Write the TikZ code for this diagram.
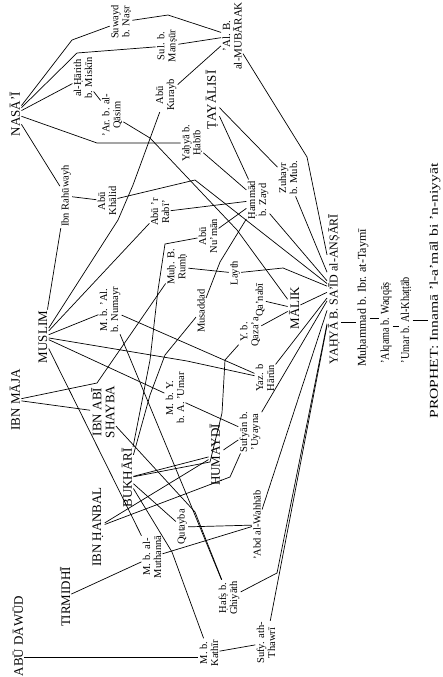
\documentclass[tikz,border=0pt]{standalone}
\usepackage{fontspec}
\setmainfont{Liberation Serif}

\begin{document}
\begin{tikzpicture}[x=1pt, y=-1pt, line width=0.7pt,
  every node/.style={rotate=90, inner sep=1pt, align=center},
  narr/.style={font=\fontsize{10.5}{11}\selectfont},
  collector/.style={font=\fontsize{13}{13}\selectfont},
  chain/.style={font=\fontsize{12}{13}\selectfont}]
  \useasboundingbox (0,0) rectangle (443,677);

  % collectors
  \node[collector] (nasai) at (15,114) {NASĀ'Ī};
  \node[collector] (muslim) at (43,337) {MUSLIM};
  \node[collector] (ibnmaja) at (15,400) {IBN MĀJA};
  \node[collector] (ibnabishayba) at (103,412) {IBN ABĪ\\SHAYBA};
  \node[collector] (bukhari) at (127,478) {BUKHĀRĪ};
  \node[collector] (ibnhanbal) at (98,527) {IBN ḤANBAL};
  \node[collector] (tirmidhi) at (65,597) {TIRMIDHĪ};
  \node[collector] (abudawud) at (18,636) {ABŪ DĀWŪD};
  \node[collector] (humaydi) at (216,455) {ḤUMAYDĪ};
  \node[collector] (tayalisi) at (212,100) {ṬAYĀLISĪ};
  \node[collector] (malik) at (294,308) {MĀLIK};
  \node[collector, font=\fontsize{11}{11.5}\selectfont] (mubarak) at (232,36) {'Al. B.\\al-MUBĀRAK};

  % transmitters
  \node[narr] (suwayd) at (121,22) {Suwayd\\b. Naṣr};
  \node[narr] (harith) at (83,78) {al-Ḥārith\\b. Miskīn};
  \node[narr] (arqasim) at (112,115) {'Ar. b. al-\\Qāsim};
  \node[narr] (rahuwayh) at (66,196) {Ibn Rahūwayh};
  \node[narr] (abukhalid) at (107,201) {Abū\\Khālid};
  \node[narr] (sulmansur) at (167,46) {Sul. b.\\Manṣūr};
  \node[narr] (abukurayb) at (166,95) {Abū\\Kurayb};
  \node[narr] (yhabib) at (192,143) {Yaḥyā b.\\Ḥabīb};
  \node[narr] (zuhayr) at (288,178) {Zuhayr\\b. Mub.};
  \node[narr] (hammad) at (258,200) {Ḥammād\\b. Zayd};
  \node[narr] (aburabi) at (160,212) {Abū 'r\\Rabī'};
  \node[narr] (abunuman) at (208,236) {Abū\\Nu'mān};
  \node[narr] (muhrumh) at (177,267) {Muḥ. B.\\Rumḥ};
  \node[narr] (layth) at (235,273) {Layth};
  \node[narr] (musaddad) at (201,311) {Musaddad};
  \node[narr] (qanabi) at (260,300) {Qa'nabī};
  \node[narr] (mbnumayr) at (110,310) {M. b. 'Al.\\b. Numayr};
  \node[narr] (yqazaa) at (250,332) {Y. b.\\Qaza'a};
  \node[narr] (yazid) at (265,378) {Yaz. b\\Hārūn};
  \node[narr] (mbyumar) at (175,398) {M. b. Y.\\b. A. 'Umar};
  \node[narr] (sufyanuy) at (250,432) {Sufyān b.\\'Uyayna};
  \node[narr] (qutayba) at (182,527) {Qutayba};
  \node[narr] (abdalwahhab) at (257,525) {'Abd al-Wahhāb};
  \node[narr] (mbmuthanna) at (152,557) {M. b. al-\\Muthannā};
  \node[narr] (hafs) at (229,598) {Ḥafṣ b.\\Ghiyāth};
  \node[narr] (sufyanth) at (266,643) {Sufy. ath-\\Thawrī};
  \node[narr] (mbkathir) at (209,653) {M. b.\\Kathīr};

  % common link and the single strand
  \node[chain] (yahya) at (334,289) {YAḤYĀ B. SA'ĪD al-ANṢĀRĪ};
  \node[chain] (taymi) at (363,298) {Muḥammad b. Ibr. at-Taymī};
  \node[chain, xscale=0.85] (alqama) at (386,323) {'Alqama b. Waqqāṣ};
  \node[chain, xscale=0.85] (umar) at (406,320) {'Umar b. Al-Khaṭṭāb};
  \node[chain, xscale=1.3] (prophet) at (435,291) {PROPHET: Innamā 'l-a'māl bi 'n-niyyāt};

  \draw (yahya.south |- 0,322) -- (taymi.north |- 0,322);
  \draw (taymi.south |- 0,318) -- (alqama.north |- 0,318);
  \draw (alqama.south |- 0,326) -- (umar.north |- 0,326);
  \draw (umar.south |- 0,320) -- (prophet.north |- 0,320);

  % upper strands
  \draw (nasai) -- (72,40) -- (suwayd);
  \draw (nasai) -- (77,53) -- (sulmansur);
  \draw (nasai) -- (harith);
  \draw (nasai) -- (97,143) -- (yhabib);
  \draw (nasai) -- (rahuwayh);
  \draw (suwayd) -- (168,15) -- (mubarak);
  \draw (sulmansur) -- (mubarak);
  \draw (abukurayb) -- (mubarak);
  \draw (harith) -- (arqasim);
  \draw (arqasim) -- (150,138) -- (237,230) -- (malik);
  \draw (rahuwayh) -- (abukhalid);
  \draw (abukhalid) -- (195,180) -- (yahya);
  \draw (mubarak) -- (307,157) -- (yahya);
  \draw (tayalisi) -- (zuhayr);
  \draw (tayalisi) -- (hammad);
  \draw (yhabib) -- (hammad);
  \draw (aburabi) -- (hammad);
  \draw (abunuman) -- (hammad);
  \draw (musaddad) -- (220,262) -- (hammad);
  \draw (zuhayr) -- (yahya);
  \draw (hammad) -- (yahya);

  % middle strands
  \draw (muslim) -- (rahuwayh);
  \draw (muslim) -- (118,220) -- (133,185) -- (abukurayb);
  \draw (muslim) -- (aburabi);
  \draw (muslim) -- (mbnumayr);
  \draw (muslim) -- (mbyumar);
  \draw (muslim) -- (187,361) -- (yazid);
  \draw (muslim) -- (mbmuthanna);
  \draw (ibnmaja) -- (ibnabishayba);
  \draw (ibnmaja) -- (97,383) -- (muhrumh);
  \draw (muhrumh) -- (layth);
  \draw (layth) -- (283,268) -- (yahya);
  \draw (qanabi) -- (malik);
  \draw (yqazaa) -- (malik);
  \draw (malik) -- (yahya);
  \draw (mbnumayr) -- (yazid);
  \draw (mbnumayr) -- (190,503) -- (hafs);
  \draw (yazid) -- (yahya);
  \draw (mbyumar) -- (sufyanuy);
  \draw (humaydi) -- (sufyanuy);
  \draw (sufyanuy) -- (yahya);

  % lower strands
  \draw (bukhari) -- (humaydi);
  \draw (bukhari) -- (qutayba);
  \draw (bukhari) -- (150,360) -- (158,290) -- (165,244) -- (abunuman);
  \draw (bukhari) -- (150,395) -- (165,355) -- (musaddad);
  \draw (bukhari) -- (210,462) -- (222,413) -- (225,360) -- (yqazaa);
  \draw (bukhari) -- (172,552) -- (mbkathir);
  \draw (ibnhanbal) -- (230,477) -- (sufyanuy);
  \draw (ibnhanbal) -- (humaydi);
  \draw (ibnabishayba) -- (195,512) -- (hafs);
  \draw (tirmidhi) -- (mbmuthanna);
  \draw (qutayba) -- (abdalwahhab);
  \draw (mbmuthanna) -- (abdalwahhab);
  \draw (abudawud.south |- 0,657) -- (mbkathir.north |- 0,657);
  \draw (mbkathir) -- (sufyanth);
  \draw (abdalwahhab) -- (yahya);
  \draw (hafs) -- (277,573) -- (yahya);
  \draw (sufyanth) -- (yahya);
\end{tikzpicture}
\end{document}
